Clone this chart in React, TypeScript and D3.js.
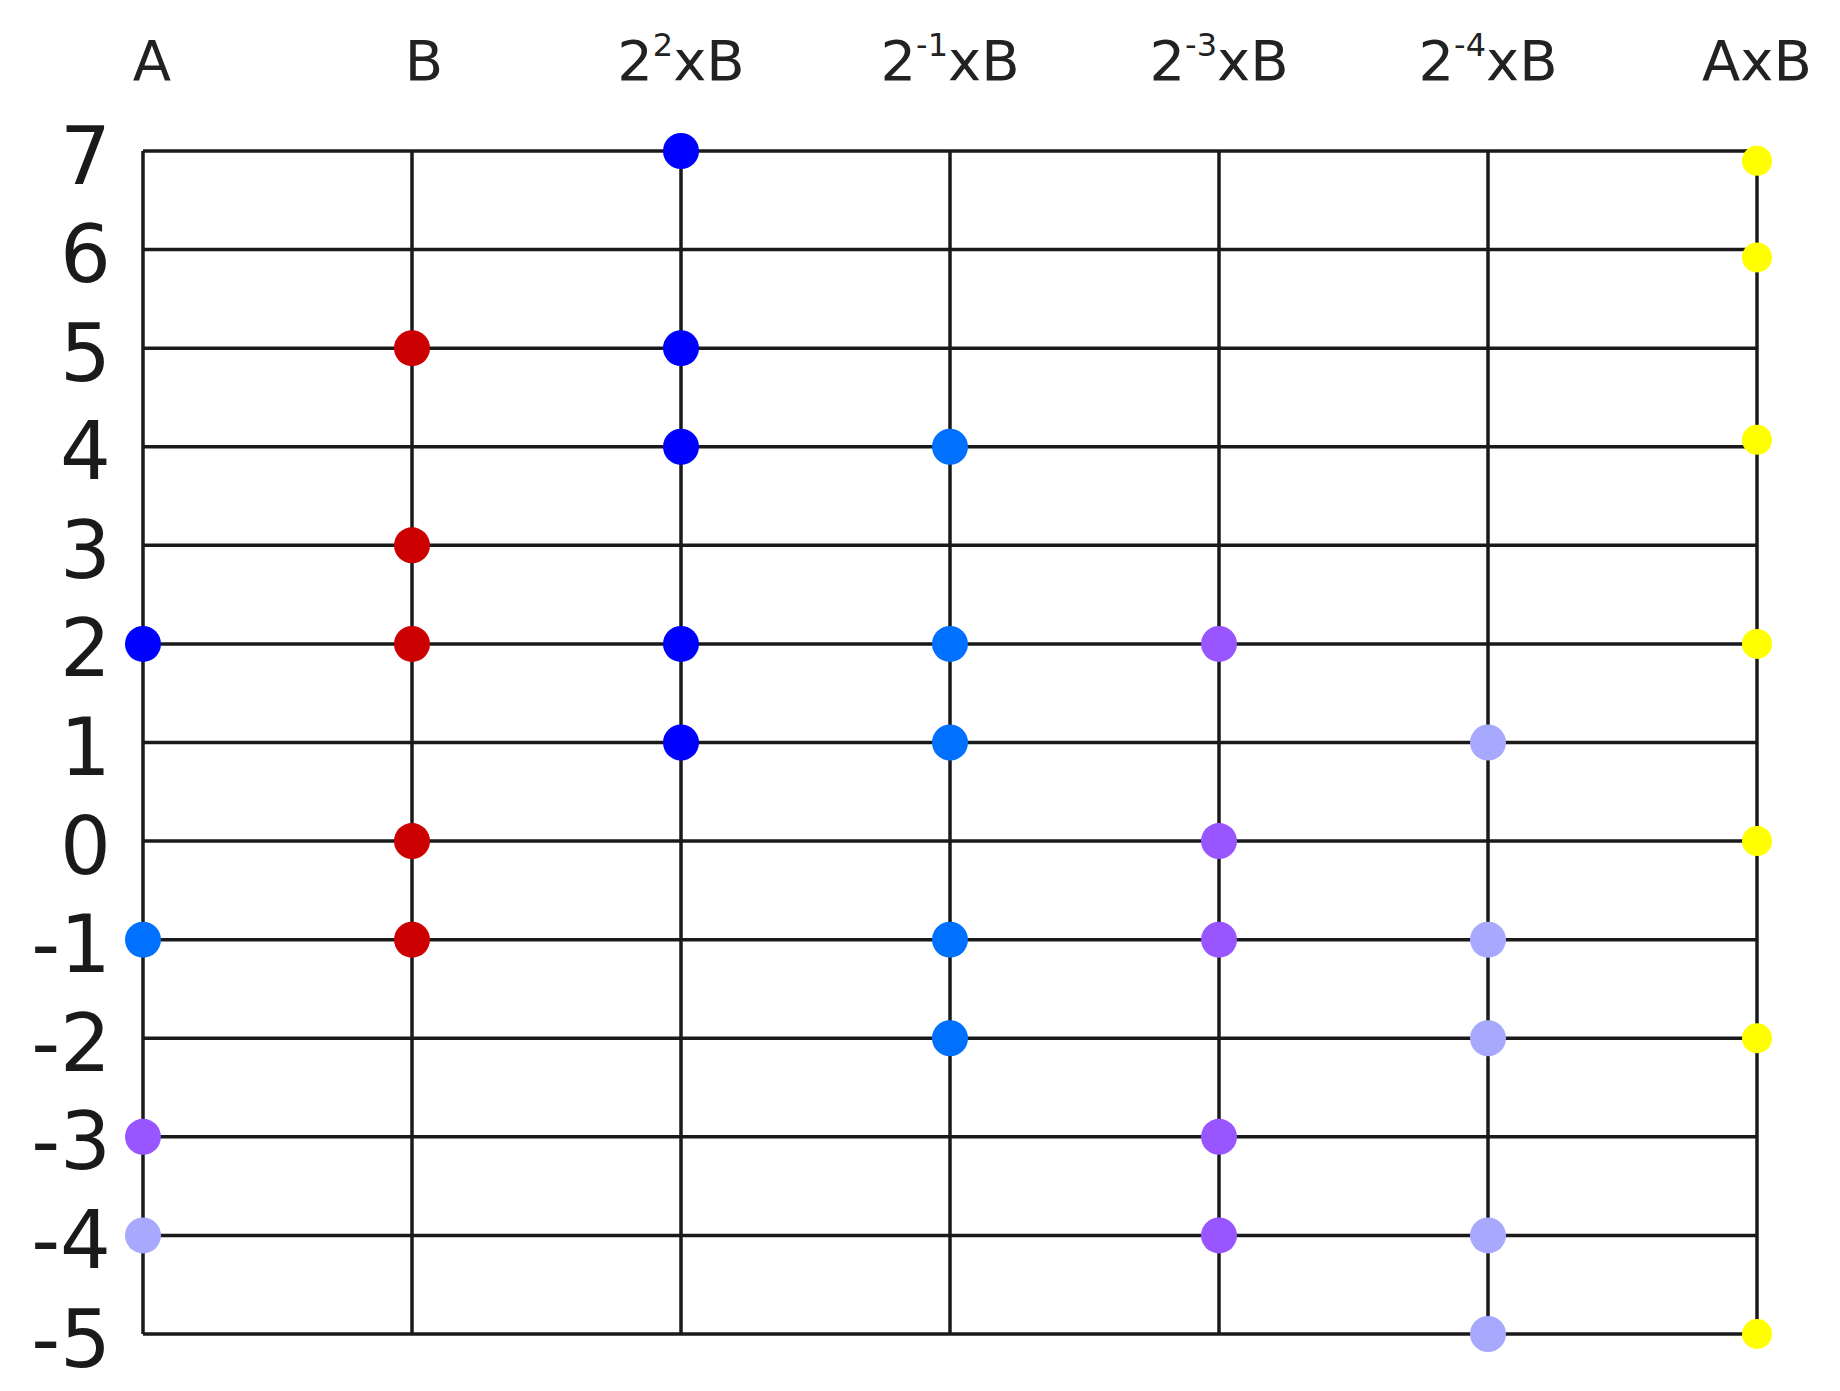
import React from "react";
import * as d3 from "d3";

const columns = ["A", "B", "22xB", "2-1xB", "2-3xB", "2-4xB", "AxB"];
const colHead = ["A", "B", "2", "2", "2", "2", "AxB"];
const colSup = ["", "", "2", "-1", "-3", "-4", ""];
const colTail = ["", "", "xB", "xB", "xB", "xB", ""];

const yTicks = [7, 6, 5, 4, 3, 2, 1, 0, -1, -2, -3, -4, -5];

const seriesCol = ["A", "A", "A", "A", "B", "22xB", "2-1xB", "2-3xB", "2-4xB", "AxB"];
const seriesColor = ["#0000ff", "#0070ff", "#9955ff", "#a8a8ff", "#cc0000", "#0000ff", "#0070ff", "#9955ff", "#a8a8ff", "#ffff00"];
const seriesValues = [
  [2],
  [-1],
  [-3],
  [-4],
  [5, 3, 2, 0, -1],
  [7, 5, 4, 2, 1],
  [4, 2, 1, -1, -2],
  [2, 0, -1, -3, -4],
  [1, -1, -2, -4, -5],
  [6.9, 5.92, 4.07, 2, 0, -2, -5],
];

export default function App() {
  const x = d3.scalePoint<string>().domain(columns).range([143, 1757]);
  const y = d3.scaleLinear().domain([-5, 7]).range([1334, 151]);
  const [y0, y1] = y.range();
  const [x0, x1] = x.range();
  const lineColor = "#1a1a1a";
  const font = "'DejaVu Sans', Verdana, sans-serif";

  return (
    <svg
      width={1840}
      height={1391}
      style={{ position: "absolute", left: 0, top: 0, background: "#fff" }}
    >
      <rect x={0} y={0} width={1840} height={1391} fill="#fff" />
      {yTicks.map((t) => (
        <line key={"h" + t} x1={x0} x2={x1} y1={y(t)} y2={y(t)} stroke={lineColor} strokeWidth={3.5} />
      ))}
      {columns.map((c) => (
        <line key={"v" + c} x1={x(c)} x2={x(c)} y1={y1} y2={y0} stroke={lineColor} strokeWidth={3.5} />
      ))}
      {yTicks.map((t) => (
        <text
          key={"yl" + t}
          x={111}
          y={y(t) + 5}
          textAnchor="end"
          dominantBaseline="central"
          fontFamily={font}
          fontSize={80}
          fill="#1a1a1a"
        >
          {t}
        </text>
      ))}
      {columns.map((c, i) => (
        <text
          key={"cl" + c}
          x={(x(c) as number) + (i === 0 ? 9 : i === 1 ? 12 : 0)}
          y={80}
          textAnchor="middle"
          fontFamily={font}
          fontSize={56}
          fill="#222"
        >
          {colHead[i]}
          {colSup[i] && (
            <tspan fontSize={32} dy={-24}>
              {colSup[i]}
            </tspan>
          )}
          {colTail[i] && <tspan dy={colSup[i] ? 24 : 0}>{colTail[i]}</tspan>}
        </text>
      ))}
      {seriesValues.map((vals, si) =>
        vals.map((v, j) => (
          <circle
            key={"p" + si + "-" + j}
            cx={x(seriesCol[si]) as number}
            cy={y(v)}
            r={seriesColor[si] === "#ffff00" ? 15 : 18}
            fill={seriesColor[si]}
          />
        ))
      )}
    </svg>
  );
}
